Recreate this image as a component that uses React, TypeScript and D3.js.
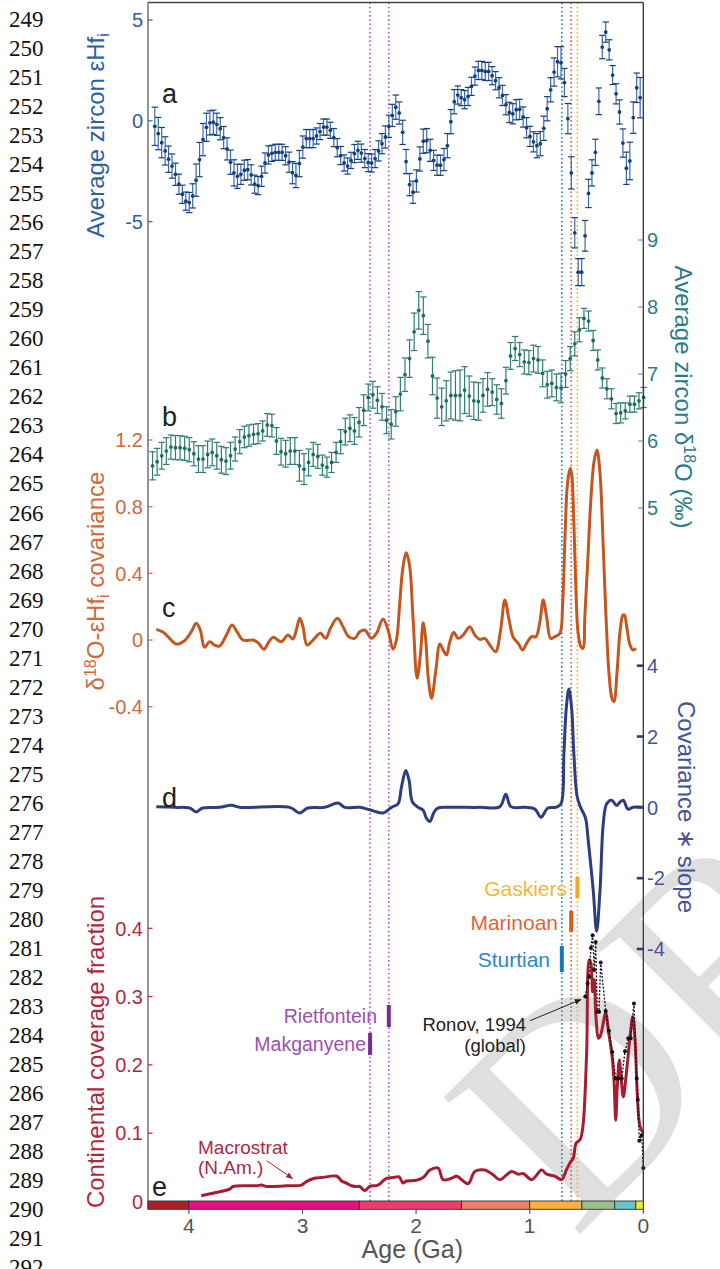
import React from "react";
import * as d3 from "d3";

const W = 720;
const H = 1269;

// ---------- manuscript line numbers ----------
const lineNumbers = d3.range(249, 293);

// ---------- ticks ----------
const ageTicks = [4, 3, 2, 1, 0];
const epsTicks = [5, 0, -5];
const d18Ticks = [9, 8, 7, 6, 5];
const covTicks = [1.2, 0.8, 0.4, 0, -0.4];
const slopeTicks = [4, 2, 0, -2, -4];
const fracTicks = [0.4, 0.3, 0.2, 0.1, 0];

// ---------- panel a: average zircon eHf_i (bins) ----------
const epsBinStart = 4.3;
const epsBinStep = 0.0303;
const epsValues = [
  -0.27, -0.63, -1.08, -1.49, -1.9, -2.24, -2.65, -3.14, -3.64, -3.98,
  -4.05, -3.72, -2.94, -1.92, -0.93, -0.32, -0.1, -0.07, -0.17, -0.39,
  -0.83, -1.39, -2.05, -2.58, -2.75, -2.65, -2.45, -2.42, -2.68, -3.14,
  -3.21, -2.75, -2.09, -1.69, -1.61, -1.56, -1.56, -1.56, -1.73, -2.05,
  -2.57, -2.71, -2.12, -1.3, -0.88, -0.88, -0.88, -0.75, -0.53, -0.31,
  -0.31, -0.47, -0.83, -1.33, -1.72, -2.09, -2.24, -1.96, -1.62, -1.46,
  -1.6, -1.87, -2.07, -2.09, -1.87, -1.49, -1.13, -0.8, -0.27, 0.27,
  0.68, 0.39, -0.57, -2.02, -3.16, -3.54, -2.98, -1.89, -1.01, -0.98,
  -1.46, -1.96, -2.2, -2.2, -1.92, -1.23, -0.04, 0.95, 1.28, 1.15,
  1.05, 1.21, 1.71, 2.22, 2.5, 2.5, 2.45, 2.45, 2.24, 1.99,
  1.64, 1.26, 0.8, 0.42, 0.35, 0.55, 0.57, 0.19, -0.34, -0.77,
  -1.04, -1.23, -1.13, -0.37, 0.6, 1.54, 2.42, 2.93, 2.88, 1.9,
  0.11, -2.58, -5.55, -7.5, -7.5, -5.7, -3.6, -2.58, -1.56, 0.97,
  3.66, 4.4, 3.52, 2.27, 1.34, 0.44, -1.1, -2.35, -1.99, 0.16,
  1.64, 1.15,
];
const epsErrors = [
  0.95, 0.8, 0.75, 0.7, 0.65, 0.6, 0.55, 0.5, 0.45, 0.45,
  0.5, 0.6, 0.8, 0.85, 0.8, 0.7, 0.6, 0.6, 0.55, 0.55,
  0.55, 0.55, 0.6, 0.65, 0.6, 0.5, 0.5, 0.5, 0.5, 0.45,
  0.45, 0.5, 0.5, 0.45, 0.4, 0.4, 0.4, 0.4, 0.45, 0.5,
  0.55, 0.6, 0.65, 0.55, 0.45, 0.45, 0.45, 0.4, 0.4, 0.4,
  0.4, 0.4, 0.45, 0.45, 0.45, 0.4, 0.4, 0.4, 0.45, 0.45,
  0.45, 0.45, 0.45, 0.45, 0.45, 0.5, 0.5, 0.55, 0.55, 0.55,
  0.6, 0.55, 0.6, 0.6, 0.55, 0.55, 0.55, 0.6, 0.6, 0.6,
  0.55, 0.5, 0.5, 0.5, 0.55, 0.6, 0.6, 0.6, 0.45, 0.4,
  0.45, 0.45, 0.45, 0.45, 0.45, 0.45, 0.45, 0.45, 0.45, 0.45,
  0.5, 0.5, 0.5, 0.5, 0.5, 0.5, 0.5, 0.5, 0.5, 0.5,
  0.5, 0.6, 0.6, 0.6, 0.6, 0.6, 0.7, 0.75, 0.8, 0.7,
  0.75, 0.8, 0.75, 0.67, 0.67, 0.76, 0.7, 0.65, 0.65, 0.66,
  0.58, 0.5, 0.5, 0.47, 0.5, 0.6, 0.7, 0.8, 0.93, 0.78,
  0.73, 1.0,
];

// ---------- panel b: average zircon d18O (bins) ----------
const d18BinStart = 4.32;
const d18BinStep = 0.0404;
const d18Values = [
  5.63, 5.69, 5.78, 5.85, 5.91, 5.9, 5.9, 5.89, 5.87, 5.81,
  5.73, 5.73, 5.8, 5.83, 5.78, 5.72, 5.7, 5.78, 5.88, 5.99,
  6.06, 6.08, 6.1, 6.11, 6.15, 6.24, 6.23, 6.0, 5.84, 5.81,
  5.85, 5.85, 5.63, 5.58, 5.68, 5.8, 5.77, 5.64, 5.61, 5.68,
  5.83, 5.99, 6.14, 6.19, 6.15, 6.28,
  6.46, 6.65, 6.69, 6.61, 6.51, 6.31, 6.25, 6.44, 6.7, 6.99,
  7.23, 7.63, 7.95, 7.87, 7.49, 6.97, 6.64, 6.51, 6.6, 6.68,
  6.68, 6.68, 6.76, 6.67, 6.6, 6.59, 6.68, 6.77, 6.73, 6.62,
  6.56, 6.9, 7.27, 7.38, 7.29, 7.18, 7.17, 7.23, 7.21, 7.01,
  6.84, 6.86, 6.8, 6.79, 7.0, 7.23, 7.45, 7.66, 7.83, 7.79,
  7.5, 7.21, 6.94, 6.78, 6.63, 6.41, 6.42, 6.45, 6.55, 6.55,
  6.6, 6.65,
];
const d18Errors = [
  0.21, 0.2, 0.2, 0.2, 0.18, 0.18, 0.18, 0.18, 0.18, 0.18,
  0.2, 0.2, 0.2, 0.2, 0.2, 0.2, 0.2, 0.2, 0.18, 0.18,
  0.16, 0.16, 0.15, 0.15, 0.15, 0.17, 0.17, 0.2, 0.2, 0.2,
  0.2, 0.2, 0.23, 0.23, 0.2, 0.18, 0.18, 0.15, 0.15, 0.15,
  0.15, 0.18, 0.2, 0.2, 0.2, 0.22,
  0.23, 0.2, 0.2, 0.2, 0.2, 0.2, 0.22, 0.22, 0.25, 0.25,
  0.28, 0.28, 0.28, 0.28, 0.25, 0.28, 0.3, 0.28, 0.3, 0.35,
  0.37, 0.38, 0.35, 0.3, 0.28, 0.28, 0.25, 0.25, 0.2, 0.22,
  0.22, 0.2, 0.2, 0.18, 0.18, 0.18, 0.18, 0.2, 0.2, 0.2,
  0.2, 0.2, 0.2, 0.22, 0.2, 0.18, 0.18, 0.18, 0.15, 0.15,
  0.15, 0.15, 0.15, 0.15, 0.15, 0.15, 0.15, 0.12, 0.12, 0.12,
  0.12, 0.15,
];

// ---------- panel c: d18O-eHf covariance [age Ga, value] ----------
const covSeries: [number, number][] = [
  [4.287, 0.064], [4.229, 0.048], [4.17, 0.01], [4.111, -0.024], [4.038, -0.004],
  [3.979, 0.05], [3.935, 0.1], [3.9, 0.06], [3.862, -0.044], [3.818, -0.01],
  [3.774, -0.03], [3.73, -0.036], [3.67, 0.03], [3.621, 0.09], [3.577, 0.05],
  [3.524, 0], [3.436, 0], [3.392, -0.016], [3.339, -0.056], [3.304, -0.02],
  [3.26, 0.016], [3.186, -0.01], [3.128, 0.03], [3.084, 0.006], [3.054, 0.06],
  [3.025, 0.13], [2.996, 0.08], [2.96, -0.03], [2.907, 0], [2.842, 0.04],
  [2.796, 0.01], [2.754, 0.07], [2.693, 0.13], [2.643, 0.08], [2.599, 0.024],
  [2.54, 0.01], [2.496, 0.05], [2.452, 0.06], [2.393, 0.01], [2.349, 0.04],
  [2.291, 0.126], [2.247, 0.06], [2.203, -0.056], [2.173, 0], [2.144, 0.22],
  [2.115, 0.44], [2.085, 0.524], [2.056, 0.44], [2.026, 0.12], [1.991, -0.23],
  [1.961, -0.08], [1.938, 0.104], [1.915, 0], [1.894, -0.22], [1.864, -0.35],
  [1.826, -0.18], [1.791, -0.024], [1.762, -0.06], [1.732, -0.09], [1.703, -0.01],
  [1.668, 0.046], [1.63, 0.01], [1.586, 0.03], [1.527, 0.08], [1.483, 0.03],
  [1.439, 0.004], [1.395, 0.01], [1.351, -0.03], [1.3, -0.07], [1.256, 0.06],
  [1.219, 0.24], [1.181, 0.12], [1.145, 0.016], [1.101, -0.02], [1.063, -0.06],
  [1.027, -0.02], [0.983, 0.02], [0.945, 0.02], [0.91, 0.11], [0.881, 0.24],
  [0.851, 0.14], [0.816, 0.01], [0.778, 0.02], [0.734, 0.04], [0.71, 0.22],
  [0.69, 0.6], [0.672, 0.9], [0.655, 1.0], [0.641, 1.03], [0.628, 0.98],
  [0.611, 0.7], [0.593, 0.3], [0.575, 0.05], [0.549, -0.04], [0.531, -0.05],
  [0.514, 0.15], [0.487, 0.5], [0.461, 0.85], [0.434, 1.07], [0.408, 1.14],
  [0.381, 1.0], [0.355, 0.6], [0.329, 0.15], [0.302, -0.2], [0.276, -0.35],
  [0.258, -0.37], [0.232, -0.2], [0.205, 0.05], [0.179, 0.15], [0.166, 0.15],
  [0.144, 0.07], [0.117, -0.03], [0.091, -0.06], [0.064, -0.05],
];

// ---------- panel d: covariance * slope ----------
const slopeSeries: [number, number][] = [
  [4.287, 0.02], [4.126, 0], [3.994, -0.02], [3.935, -0.13], [3.879, -0.02],
  [3.73, 0], [3.626, 0.06], [3.553, 0], [3.113, 0], [3.025, -0.16],
  [2.954, -0.02], [2.805, 0], [2.687, 0.12], [2.628, 0], [2.496, 0],
  [2.408, -0.07], [2.291, -0.16], [2.217, 0], [2.159, 0.1], [2.129, 0.57],
  [2.091, 1.04], [2.062, 0.76], [2.032, 0.15], [1.982, 0], [1.938, -0.08],
  [1.91, -0.3], [1.879, -0.4], [1.844, -0.15], [1.809, -0.02], [1.703, 0],
  [1.439, 0], [1.263, 0.02], [1.21, 0.37], [1.166, 0.02], [1.042, 0],
  [0.954, -0.05], [0.901, -0.28], [0.84, -0.02], [0.77, 0], [0.725, 0.1],
  [0.699, 1.5], [0.678, 2.8], [0.655, 3.34], [0.631, 2.8], [0.611, 1.5],
  [0.582, 0.3], [0.552, 0], [0.509, -0.3], [0.485, -0.93], [0.441, -2.34],
  [0.411, -3.5], [0.381, -2.34], [0.352, -0.45], [0.322, 0.1], [0.278, 0.2],
  [0.234, 0.05], [0.205, 0.15], [0.176, 0.2], [0.135, -0.05], [0.091, 0],
  [0.003, 0],
];

// ---------- panel e: continental coverage fraction (Macrostrat) ----------
const macrostratSeries: [number, number][] = [
  [3.891, 0.0085], [3.789, 0.012], [3.641, 0.018], [3.612, 0.022], [3.406, 0.023],
  [3.362, 0.024], [3.318, 0.022], [3.142, 0.023], [3.01, 0.024], [2.966, 0.029],
  [2.893, 0.034], [2.833, 0.035], [2.696, 0.037], [2.657, 0.03], [2.613, 0.027],
  [2.569, 0.023], [2.525, 0.022], [2.496, 0.022], [2.452, 0.016], [2.408, 0.022],
  [2.335, 0.024], [2.261, 0.034], [2.203, 0.035], [2.15, 0.036], [2.115, 0.027],
  [2.085, 0.03], [1.996, 0.031], [1.938, 0.035], [1.879, 0.046], [1.806, 0.049],
  [1.762, 0.032], [1.688, 0.034], [1.644, 0.037], [1.542, 0.026], [1.483, 0.044],
  [1.395, 0.046], [1.322, 0.039], [1.263, 0.032], [1.159, 0.044], [1.101, 0.04],
  [1.057, 0.041], [0.983, 0.032], [0.895, 0.046], [0.851, 0.04], [0.778, 0.037],
  [0.719, 0.032], [0.675, 0.047], [0.64, 0.058], [0.617, 0.063], [0.593, 0.085],
  [0.573, 0.088], [0.552, 0.092], [0.529, 0.114], [0.499, 0.217], [0.476, 0.354],
  [0.461, 0.349], [0.446, 0.307], [0.432, 0.325], [0.417, 0.27], [0.393, 0.239],
  [0.375, 0.244], [0.331, 0.276], [0.308, 0.251], [0.278, 0.217], [0.258, 0.178],
  [0.243, 0.119], [0.229, 0.168], [0.211, 0.207], [0.196, 0.183], [0.176, 0.153],
  [0.152, 0.183], [0.117, 0.241], [0.093, 0.271], [0.073, 0.237], [0.053, 0.158],
  [0.029, 0.11], [0.0, 0.1],
];

// ---------- panel e: Ronov 1994 (global) ----------
const ronovSeries: [number, number][] = [
  [0.511, 0.3], [0.49, 0.319], [0.476, 0.329], [0.461, 0.371], [0.446, 0.39],
  [0.432, 0.339], [0.419, 0.38], [0.405, 0.278], [0.39, 0.278], [0.375, 0.35],
  [0.331, 0.279], [0.302, 0.25], [0.273, 0.219], [0.243, 0.18], [0.22, 0.18],
  [0.19, 0.18], [0.161, 0.22], [0.132, 0.239], [0.111, 0.239], [0.082, 0.29],
  [0.058, 0.18], [0.049, 0.149], [0.035, 0.089], [0.014, 0.097], [0.0, 0.049],
];

// ---------- glaciations ----------
const glaciationNames = ["Makganyene", "Rietfontein", "Sturtian", "Marinoan", "Gaskiers"];
const glaciationAges = [2.405, 2.24, 0.717, 0.635, 0.58];

// ---------- geologic time scale ----------
const eraBounds = [4.36, 4.0, 2.5, 1.6, 1.0, 0.541, 0.252, 0.066, 0];
const eraColors = ["#ae2028", "#ea0f80", "#ee3d6d", "#f08067", "#f9b13f", "#98c08b", "#62c6ca", "#eee92a"];

// ---------- styles ----------
const FONT = "'Liberation Sans', Arial, Helvetica, sans-serif";
const C_A = "#2f60a4";
const C_A_PT = "#143f80";
const C_A_ERR = "#3d6aa6";
const C_B = "#2b7c8a";
const C_B_PT = "#1c6e64";
const C_B_ERR = "#2f7d74";
const C_C = "#c2571f";
const C_C_TXT = "#d0683a";
const C_D = "#2c3d80";
const C_D_TXT = "#46529a";
const C_E = "#a51d31";
const C_E_TXT = "#b0283f";
const glacLine = ["#b455cc", "#b455cc", "#1f7fc8", "#e8582e", "#f2b12a"];
const glacBar = ["#7b2a8f", "#7b2a8f", "#1b76c0", "#dc5a28", "#eeaa22"];
const glacText = ["#9a4fb3", "#9a4fb3", "#2b87d1", "#e0643a", "#f4b93a"];

export default function App() {
  const x = d3.scaleLinear().domain([4.36, 0]).range([148, 643.3]);
  const yA = d3.scaleLinear().domain([5, -5]).range([20, 221.7]);
  const yB = d3.scaleLinear().domain([9, 5]).range([240, 508]);
  const yC = d3.scaleLinear().domain([1.2, -0.4]).range([440, 706.7]);
  const yD = d3.scaleLinear().domain([4, -4]).range([665.7, 949]);
  const yE = d3.scaleLinear().domain([0.4, 0]).range([928.3, 1201.5]);

  const L = 148;
  const R = 643.3;
  const TOP = 2.5;
  const BAR_T = 1201;
  const BAR_B = 1209.3;

  const mk = (ys: d3.ScaleLinear<number, number>) =>
    d3
      .line<[number, number]>()
      .x((d) => x(d[0]))
      .y((d) => ys(d[1]))
      .curve(d3.curveCatmullRom.alpha(0.5));

  const lineC = mk(yC)(covSeries) || "";
  const lineD = mk(yD)(slopeSeries) || "";
  const lineE = mk(yE)(macrostratSeries) || "";
  const lineRonov =
    d3
      .line<[number, number]>()
      .x((d) => x(d[0]))
      .y((d) => yE(d[1]))(ronovSeries) || "";

  const epsPts = epsValues.map((v, i) => ({ age: epsBinStart - i * epsBinStep, v, e: epsErrors[i] }));
  const d18Pts = d18Values.map((v, i) => ({ age: d18BinStart - i * d18BinStep, v, e: d18Errors[i] }));

  // label layout for glaciation bars (screen positions)
  const glacLayout = [
    { y0: 1033, y1: 1055, ty: 1050.5, tx: 366 },
    { y0: 1005, y1: 1027, ty: 1023, tx: 377 },
    { y0: 946, y1: 972, ty: 967, tx: 550 },
    { y0: 911, y1: 932, ty: 930, tx: 558 },
    { y0: 877, y1: 898, ty: 896, tx: 567 },
  ];

  const leftAxis = (ticks: number[], ys: d3.ScaleLinear<number, number>, color: string, fmt: (v: number) => string) =>
    ticks.map((t) => (
      <g key={t}>
        <line x1={L} x2={L + 4.5} y1={ys(t)} y2={ys(t)} stroke={color} strokeWidth={1.2} />
        <text x={143} y={ys(t)} dy="0.36em" textAnchor="end" fill={color} fontSize={20}>
          {fmt(t)}
        </text>
      </g>
    ));

  const rightAxis = (ticks: number[], ys: d3.ScaleLinear<number, number>, color: string, tickColor: string, w: number, len: number) =>
    ticks.map((t) => (
      <g key={t}>
        <line x1={R - len} x2={R} y1={ys(t)} y2={ys(t)} stroke={tickColor} strokeWidth={w} />
        <text x={647} y={ys(t)} dy="0.36em" textAnchor="start" fill={color} fontSize={20}>
          {String(t)}
        </text>
      </g>
    ));

  return (
    <svg
      width={W}
      height={H}
      viewBox={`0 0 ${W} ${H}`}
      style={{ position: "absolute", left: 0, top: 0, background: "#fff" }}
      fontFamily={FONT}
    >
      <defs>
        <marker id="arrBlack" viewBox="0 0 10 10" refX="9" refY="5" markerWidth="7" markerHeight="7" orient="auto">
          <path d="M0,1 L10,5 L0,9 Z" fill="#222" />
        </marker>
        <marker id="arrRed" viewBox="0 0 10 10" refX="9" refY="5" markerWidth="7" markerHeight="7" orient="auto">
          <path d="M0,1 L10,5 L0,9 Z" fill={C_E} />
        </marker>
      </defs>

      {/* watermark */}
      <text
        transform="translate(574,1240) rotate(-45)"
        fontFamily="'Liberation Serif', 'DejaVu Serif', serif"
        fontSize={295}
        fill="#dfdfdf"
      >
        DRAFT
      </text>

      {/* line numbers */}
      {lineNumbers.map((n, i) => (
        <text key={n} x={9} y={27 + i * 29.03} fontFamily="'Liberation Serif', 'DejaVu Serif', serif" fontSize={23} fill="#111">
          {n}
        </text>
      ))}

      {/* glaciation dotted lines */}
      {glaciationAges.map((a, i) => (
        <line
          key={glaciationNames[i]}
          x1={x(a)}
          x2={x(a)}
          y1={TOP}
          y2={BAR_T}
          stroke={glacLine[i]}
          strokeWidth={1.6}
          strokeDasharray="1.6 2.6"
        />
      ))}

      {/* panel a */}
      {epsPts.map((p, i) => {
        const cx = x(p.age);
        const y0 = yA(p.v + p.e);
        const y1 = yA(p.v - p.e);
        return (
          <g key={"a" + i}>
            <line x1={cx} x2={cx} y1={y0} y2={y1} stroke={C_A_ERR} strokeWidth={1.2} />
            <line x1={cx - 3.2} x2={cx + 3.2} y1={y0} y2={y0} stroke={C_A_PT} strokeWidth={1.2} />
            <line x1={cx - 3.2} x2={cx + 3.2} y1={y1} y2={y1} stroke={C_A_PT} strokeWidth={1.2} />
          </g>
        );
      })}
      {epsPts.map((p, i) => (
        <circle key={"ap" + i} cx={x(p.age)} cy={yA(p.v)} r={1.9} fill={C_A_PT} />
      ))}

      {/* panel b */}
      {d18Pts.map((p, i) => {
        const cx = x(p.age);
        const y0 = yB(p.v + p.e);
        const y1 = yB(p.v - p.e);
        return (
          <g key={"b" + i}>
            <line x1={cx} x2={cx} y1={y0} y2={y1} stroke={C_B_ERR} strokeWidth={1.2} />
            <line x1={cx - 3.2} x2={cx + 3.2} y1={y0} y2={y0} stroke={C_B_ERR} strokeWidth={1.2} />
            <line x1={cx - 3.2} x2={cx + 3.2} y1={y1} y2={y1} stroke={C_B_ERR} strokeWidth={1.2} />
          </g>
        );
      })}
      {d18Pts.map((p, i) => (
        <circle key={"bp" + i} cx={x(p.age)} cy={yB(p.v)} r={1.9} fill={C_B_PT} />
      ))}

      {/* panel c */}
      <path d={lineC} fill="none" stroke={C_C} strokeWidth={3} strokeLinejoin="round" />
      {/* panel d */}
      <path d={lineD} fill="none" stroke={C_D} strokeWidth={3} strokeLinejoin="round" />
      {/* panel e */}
      <path d={lineE} fill="none" stroke={C_E} strokeWidth={3} strokeLinejoin="round" />
      <path d={lineRonov} fill="none" stroke="#111" strokeWidth={1.3} strokeDasharray="2 1.6" />
      {ronovSeries.map((d, i) => (
        <circle key={"r" + i} cx={x(d[0])} cy={yE(d[1])} r={2} fill="#111" />
      ))}

      {/* glaciation labels and bars */}
      {glaciationAges.map((a, i) => (
        <g key={"gl" + i}>
          <rect x={x(a) - 2} y={glacLayout[i].y0} width={4} height={glacLayout[i].y1 - glacLayout[i].y0} fill={glacBar[i]} />
          <text x={glacLayout[i].tx} y={glacLayout[i].ty} textAnchor="end" fontSize={i >= 2 ? 21 : 19.5} fill={glacText[i]}>
            {glaciationNames[i]}
          </text>
        </g>
      ))}

      {/* Ronov annotation */}
      <text x={526} y={1031} textAnchor="end" fontSize={18.5} fill="#222">
        Ronov, 1994
      </text>
      <text x={526} y={1052} textAnchor="end" fontSize={18.5} fill="#222">
        (global)
      </text>
      <line x1={530} y1={1020.7} x2={581} y2={999.5} stroke="#222" strokeWidth={1} markerEnd="url(#arrBlack)" />

      {/* Macrostrat annotation */}
      <text x={198} y={1154} fontSize={19} fill={C_E_TXT}>
        Macrostrat
      </text>
      <text x={198} y={1174} fontSize={19} fill={C_E_TXT}>
        (N.Am.)
      </text>
      <line x1={266.7} y1={1160.7} x2={292.5} y2={1178.5} stroke={C_E} strokeWidth={1} markerEnd="url(#arrRed)" />

      {/* panel letters */}
      <text x={162} y={103} fontSize={27} fill="#222">a</text>
      <text x={162} y={426} fontSize={27} fill="#222">b</text>
      <text x={162} y={617} fontSize={27} fill="#222">c</text>
      <text x={162} y={807} fontSize={27} fill="#222">d</text>
      <text x={152} y={1196} fontSize={27} fill="#222">e</text>

      {/* frame */}
      <line x1={L} x2={L} y1={TOP} y2={BAR_B} stroke="#7a7a7a" strokeWidth={1.6} />
      <line x1={L} x2={R} y1={TOP} y2={TOP} stroke="#444" strokeWidth={1.3} />
      <line x1={R} x2={R} y1={TOP} y2={BAR_B} stroke="#333" strokeWidth={1.3} />

      {/* axes */}
      {leftAxis(epsTicks, yA, C_A, (v) => String(v))}
      {rightAxis(d18Ticks, yB, C_B, "#5a9aa0", 1.2, 5)}
      {leftAxis(covTicks, yC, C_C_TXT, (v) => String(v))}
      {rightAxis(slopeTicks, yD, C_D_TXT, C_D, 2.6, 6.5)}
      {leftAxis(fracTicks, yE, C_E_TXT, (v) => String(v))}

      {/* axis titles */}
      <text transform="translate(104,135.5) rotate(-90)" textAnchor="middle" fontSize={24} fill={C_A}>
        Average zircon εHf
        <tspan fontSize={16} dy={5}>i</tspan>
      </text>
      <text transform="translate(675,397) rotate(90)" textAnchor="middle" fontSize={24} fill={C_B}>
        Average zircon δ
        <tspan fontSize={16} dy={-9}>18</tspan>
        <tspan dy={9}>O (‰)</tspan>
      </text>
      <text transform="translate(104,581) rotate(-90)" textAnchor="middle" fontSize={24} fill={C_C_TXT}>
        δ
        <tspan fontSize={16} dy={-8}>18</tspan>
        <tspan dy={8}>O-εHf</tspan>
        <tspan fontSize={16} dy={5}>i</tspan>
        <tspan dy={-5}> covariance</tspan>
      </text>
      <text transform="translate(678,807) rotate(90)" textAnchor="middle" fontSize={24} fill={C_D_TXT}>
        Covariance ∗ slope
      </text>
      <text transform="translate(104,1052) rotate(-90)" textAnchor="middle" fontSize={24} fill={C_E_TXT}>
        Continental coverage fraction
      </text>

      {/* geologic time scale bar */}
      {eraColors.map((c, i) => (
        <rect
          key={"era" + i}
          x={x(eraBounds[i])}
          y={BAR_T}
          width={x(eraBounds[i + 1]) - x(eraBounds[i])}
          height={BAR_B - BAR_T}
          fill={c}
          stroke="#333"
          strokeWidth={0.9}
        />
      ))}

      {/* x axis */}
      {ageTicks.map((t) => (
        <g key={"xt" + t}>
          <line x1={x(t)} x2={x(t)} y1={BAR_B} y2={BAR_B + 4.5} stroke="#555" strokeWidth={1.2} />
          <text x={x(t)} y={1233} textAnchor="middle" fontSize={21} fill="#555">
            {t}
          </text>
        </g>
      ))}
      <text x={463} y={1258} textAnchor="end" fontSize={25} fill="#555">
        Age (Ga)
      </text>
    </svg>
  );
}
